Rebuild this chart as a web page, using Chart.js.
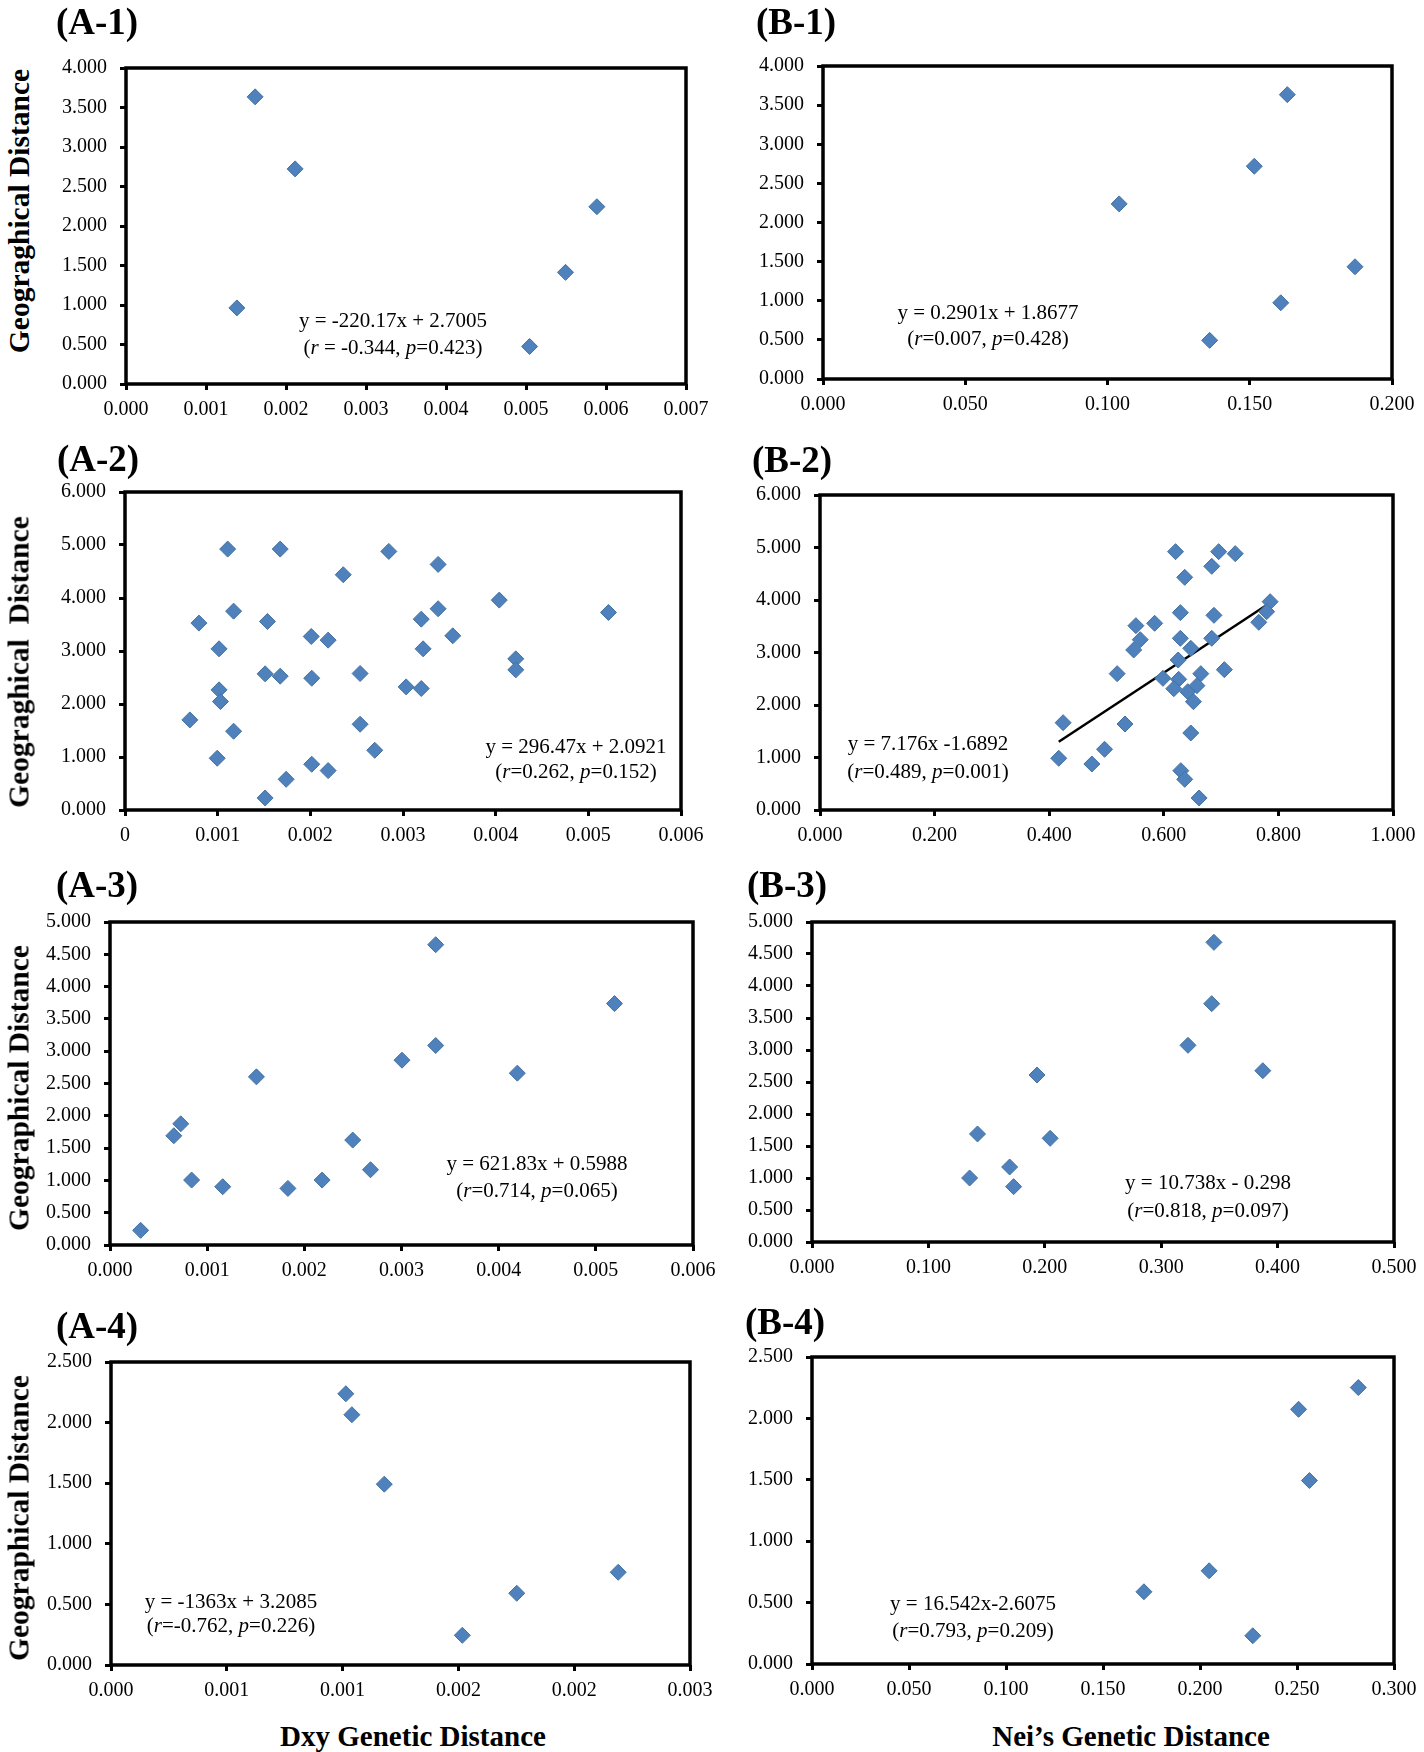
<!DOCTYPE html>
<html>
<head>
<meta charset="utf-8">
<title>Genetic vs geographical distance</title>
<script src="https://cdn.jsdelivr.net/npm/chart.js@4.4.0/dist/chart.umd.min.js"></script>
<style>
  body { margin: 0; width: 1424px; height: 1752px; background: #fff; position: relative; overflow: hidden;
         font-family: 'Liberation Serif', 'Times New Roman', serif; color: #000; }
  canvas { position: absolute; }
  .tag { position: absolute; font-weight: bold; font-size: 37px; line-height: 1; }
  .ytitle { position: absolute; font-weight: bold; font-size: 29.5px; white-space: nowrap;
            transform: translate(-50%, -50%) rotate(-90deg); }
  .xtitle { position: absolute; font-weight: bold; font-size: 29px; white-space: nowrap;
            transform: translate(-50%, -50%); }
  .eq { position: absolute; font-size: 21px; white-space: nowrap; text-align: center; transform: translateX(-50%); }
</style>
</head>
<body>
<script>
// === DATA (x = genetic distance, y = geographical distance) ===
// A-1 .. A-4 : Dxy
const a1X = [0.001614, 0.002114, 0.001386, 0.005045, 0.005494, 0.005886];
const a1Y = [3.635, 2.723, 0.963, 0.475, 1.413, 2.244];

const a2X = [0.001108, 0.001675, 0.002847, 0.003379, 0.002355, 0.004039, 0.001172, 0.003379, 0.005217,
             0.000798, 0.001537, 0.003197, 0.002010, 0.002192, 0.003537, 0.001015, 0.003217, 0.004217,
             0.004217, 0.001512, 0.001675, 0.002015, 0.002537, 0.003034, 0.003197, 0.001015, 0.001030,
             0.000700, 0.001172, 0.002537, 0.002695, 0.000995, 0.002015, 0.002192, 0.001739, 0.001512];
const a2Y = [4.923, 4.923, 4.879, 4.634, 4.439, 3.960, 3.752, 3.797, 3.727,
             3.526, 3.557, 3.601, 3.274, 3.205, 3.287, 3.041, 3.041, 2.852,
             2.644, 2.569, 2.525, 2.487, 2.575, 2.323, 2.292, 2.267, 2.046,
             1.700, 1.486, 1.618, 1.127, 0.976, 0.863, 0.743, 0.579, 0.227];

const a3X = [0.003352, 0.005192, 0.003352, 0.003005, 0.004192, 0.001507, 0.000728, 0.000657,
             0.002498, 0.002681, 0.000840, 0.002183, 0.001160, 0.001831, 0.000315];
const a3Y = [4.649, 3.737, 3.088, 2.861, 2.660, 2.603, 1.876, 1.691,
             1.624, 1.165, 1.005, 1.005, 0.902, 0.876, 0.227];

const a4X = [0.001014, 0.001040, 0.001180, 0.002190, 0.001752, 0.001517];
const a4Y = [2.238, 2.065, 1.492, 0.765, 0.592, 0.245];

// B-1 .. B-4 : Nei's
const b1X = [0.1632, 0.1516, 0.1041, 0.1870, 0.1609, 0.1359];
const b1Y = [3.634, 2.719, 2.238, 1.434, 0.974, 0.494];

const b2X = [0.6205, 0.6958, 0.7247, 0.6837, 0.6365, 0.7856, 0.6289, 0.6875, 0.7795,
             0.7658, 0.5513, 0.5840, 0.6289, 0.6837, 0.5589, 0.5475, 0.6471, 0.6251,
             0.5186, 0.6646, 0.7057, 0.5985, 0.6259, 0.6175, 0.6418, 0.6578, 0.6517,
             0.4243, 0.5323, 0.6471, 0.4966, 0.4167, 0.4745, 0.6297, 0.6365, 0.6616];
const b2Y = [4.921, 4.921, 4.883, 4.641, 4.432, 3.968, 3.759, 3.708, 3.778,
             3.575, 3.511, 3.556, 3.270, 3.270, 3.244, 3.048, 3.079, 2.857,
             2.597, 2.597, 2.673, 2.508, 2.489, 2.311, 2.254, 2.368, 2.063,
             1.663, 1.638, 1.467, 1.156, 0.984, 0.876, 0.749, 0.584, 0.229];
const b2Fit = [7.176, -1.6892]; // slope, intercept

const b3X = [0.3453, 0.3434, 0.3230, 0.3873, 0.1933, 0.1422, 0.2046, 0.1698, 0.1354, 0.1732];
const b3Y = [4.682, 3.724, 3.073, 2.677, 2.609, 1.688, 1.620, 1.172, 1.000, 0.865];

const b4X = [0.2816, 0.2508, 0.2564, 0.2047, 0.1711, 0.2272];
const b4Y = [2.251, 2.074, 1.494, 0.759, 0.588, 0.230];

// === TICK LABELS ===
const yTicks4 = ['0.000', '0.500', '1.000', '1.500', '2.000', '2.500', '3.000', '3.500', '4.000'];
const yTicks6 = ['0.000', '1.000', '2.000', '3.000', '4.000', '5.000', '6.000'];
const yTicks5 = ['0.000', '0.500', '1.000', '1.500', '2.000', '2.500', '3.000', '3.500', '4.000', '4.500', '5.000'];
const yTicks25 = ['0.000', '0.500', '1.000', '1.500', '2.000', '2.500'];

const xTicksA1 = ['0.000', '0.001', '0.002', '0.003', '0.004', '0.005', '0.006', '0.007'];
const xTicksA2 = ['0', '0.001', '0.002', '0.003', '0.004', '0.005', '0.006'];
const xTicksA3 = ['0.000', '0.001', '0.002', '0.003', '0.004', '0.005', '0.006'];
const xTicksA4 = ['0.000', '0.001', '0.001', '0.002', '0.002', '0.003'];
const xTicksB1 = ['0.000', '0.050', '0.100', '0.150', '0.200'];
const xTicksB2 = ['0.000', '0.200', '0.400', '0.600', '0.800', '1.000'];
const xTicksB3 = ['0.000', '0.100', '0.200', '0.300', '0.400', '0.500'];
const xTicksB4 = ['0.000', '0.050', '0.100', '0.150', '0.200', '0.250', '0.300'];

// === PANEL LAYOUT (plot box = left, top, right, bottom in page px) ===
const panels = [
  { tag: '(A-1)', tagAt: [56, 3], xs: a1X, ys: a1Y, xl: xTicksA1, xStep: 0.001, yl: yTicks4, yStep: 0.5,
    box: [126, 68, 686, 384], eq: ['y = -220.17x + 2.7005', '(<i>r</i> = -0.344, <i>p</i>=0.423)'], eqAt: [393, 320, 347],
    ytitle: 'Geograghical Distance', ytAt: [19, 211] },
  { tag: '(B-1)', tagAt: [756, 3], xs: b1X, ys: b1Y, xl: xTicksB1, xStep: 0.05, yl: yTicks4, yStep: 0.5,
    box: [823, 66, 1392, 379], eq: ['y = 0.2901x + 1.8677', '(<i>r</i>=0.007, <i>p</i>=0.428)'], eqAt: [988, 312, 338] },
  { tag: '(A-2)', tagAt: [57, 440], xs: a2X, ys: a2Y, xl: xTicksA2, xStep: 0.001, yl: yTicks6, yStep: 1,
    box: [125, 492, 681, 810], eq: ['y = 296.47x + 2.0921', '(<i>r</i>=0.262, <i>p</i>=0.152)'], eqAt: [576, 746, 771],
    ytitle: 'Geograghical&nbsp; Distance', ytAt: [19, 662] },
  { tag: '(B-2)', tagAt: [752, 441], xs: b2X, ys: b2Y, xl: xTicksB2, xStep: 0.2, yl: yTicks6, yStep: 1,
    box: [820, 495, 1393, 810], eq: ['y = 7.176x -1.6892', '(<i>r</i>=0.489, <i>p</i>=0.001)'], eqAt: [928, 743, 771],
    fit: b2Fit },
  { tag: '(A-3)', tagAt: [56, 866], xs: a3X, ys: a3Y, xl: xTicksA3, xStep: 0.001, yl: yTicks5, yStep: 0.5,
    box: [110, 922, 693, 1245], eq: ['y = 621.83x + 0.5988', '(<i>r</i>=0.714, <i>p</i>=0.065)'], eqAt: [537, 1163, 1190],
    ytitle: 'Geographical Distance', ytAt: [19, 1088] },
  { tag: '(B-3)', tagAt: [747, 866], xs: b3X, ys: b3Y, xl: xTicksB3, xStep: 0.1, yl: yTicks5, yStep: 0.5,
    box: [812, 922, 1394, 1242], eq: ['y = 10.738x - 0.298', '(<i>r</i>=0.818, <i>p</i>=0.097)'], eqAt: [1208, 1182, 1210] },
  { tag: '(A-4)', tagAt: [56, 1307], xs: a4X, ys: a4Y, xl: xTicksA4, xStep: 0.0005, yl: yTicks25, yStep: 0.5,
    box: [111, 1362, 690, 1665], eq: ['y = -1363x + 3.2085', '(<i>r</i>=-0.762, <i>p</i>=0.226)'], eqAt: [231, 1601, 1625],
    ytitle: 'Geographical Distance', ytAt: [19, 1518] },
  { tag: '(B-4)', tagAt: [745, 1303], xs: b4X, ys: b4Y, xl: xTicksB4, xStep: 0.05, yl: yTicks25, yStep: 0.5,
    box: [812, 1357, 1394, 1664], eq: ['y = 16.542x-2.6075', '(<i>r</i>=0.793, <i>p</i>=0.209)'], eqAt: [973, 1603, 1630] }
];

// canvas margins round the plot box; kept larger than the label overflow so the plot box lands exactly
const PAD_L = 90, PAD_T = 32, PAD_R = 40, PAD_B = 45;
const FONT = "'Liberation Serif', 'Times New Roman', serif";

// === black frame round the plot area ===
const framePlugin = {
  id: 'frame',
  beforeDatasetsDraw(chart) {
    const { ctx, chartArea: a } = chart;
    ctx.save();
    ctx.strokeStyle = '#000';
    ctx.lineWidth = 3.5;
    ctx.strokeRect(a.left, a.top, a.right - a.left, a.bottom - a.top);
    ctx.restore();
  }
};

function makeScale(labels, step, isX) {
  return {
    type: 'linear',
    min: 0,
    max: (labels.length - 1) * step,
    afterBuildTicks: s => { s.ticks = labels.map((l, i) => ({ value: i * step })); },
    afterFit: s => { if (isX) s.height = PAD_B; else s.width = PAD_L; },
    grid: { drawOnChartArea: false, drawTicks: true, tickLength: 6, color: '#000', lineWidth: 3 },
    border: { display: false },
    ticks: {
      color: '#000', font: { family: FONT, size: 20 }, padding: isX ? 8 : 13,
      maxRotation: 0, autoSkip: false, callback: (v, i) => labels[i]
    }
  };
}

function addDiv(cls, html, css) {
  const d = document.createElement('div');
  d.className = cls;
  d.innerHTML = html;
  Object.assign(d.style, css);
  document.body.appendChild(d);
  return d;
}

panels.forEach(p => {
  const [l, t, r, b] = p.box;
  const canvas = document.createElement('canvas');
  canvas.width = (r - l) + PAD_L + PAD_R;
  canvas.height = (b - t) + PAD_T + PAD_B;
  canvas.style.left = (l - PAD_L) + 'px';
  canvas.style.top = (t - PAD_T) + 'px';
  document.body.appendChild(canvas);

  const datasets = [{
    data: p.xs.map((x, i) => ({ x, y: p.ys[i] })),
    pointStyle: 'rectRot',
    pointRadius: 8,
    backgroundColor: '#4f81bd',
    borderColor: '#45729f',
    borderWidth: 1,
    showLine: false
  }];

  if (p.fit) {
    const x0 = Math.min(...p.xs), x1 = Math.max(...p.xs);
    datasets.push({
      data: [x0, x1].map(x => ({ x, y: p.fit[0] * x + p.fit[1] })),
      showLine: true,
      pointRadius: 0,
      borderColor: '#000',
      borderWidth: 2.5
    });
  }

  new Chart(canvas.getContext('2d'), {
    type: 'scatter',
    data: { datasets },
    options: {
      responsive: false,
      animation: false,
      layout: { padding: { left: 0, top: PAD_T, right: PAD_R, bottom: 0 } },
      plugins: { legend: { display: false }, tooltip: { enabled: false } },
      scales: { x: makeScale(p.xl, p.xStep, true), y: makeScale(p.yl, p.yStep, false) }
    },
    plugins: [framePlugin]
  });

  addDiv('tag', p.tag, { left: p.tagAt[0] + 'px', top: p.tagAt[1] + 'px' });
  const lh = p.eqAt[2] - p.eqAt[1];
  addDiv('eq', p.eq.join('<br>'), {
    left: p.eqAt[0] + 'px', top: (p.eqAt[1] - lh / 2) + 'px', lineHeight: lh + 'px'
  });
  if (p.ytitle) addDiv('ytitle', p.ytitle, { left: p.ytAt[0] + 'px', top: p.ytAt[1] + 'px' });
});

addDiv('xtitle', 'Dxy Genetic Distance', { left: '413px', top: '1736px' });
addDiv('xtitle', 'Nei’s Genetic Distance', { left: '1131px', top: '1736px' });
</script>
</body>
</html>
